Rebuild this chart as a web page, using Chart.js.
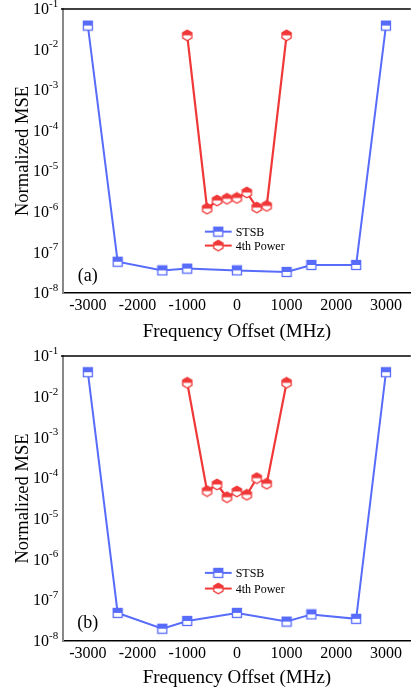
<!DOCTYPE html>
<html>
<head>
<meta charset="utf-8">
<script src="https://cdn.jsdelivr.net/npm/chart.js@4"></script>
<style>
  html, body { margin: 0; padding: 0; background: #fff; }
  .panel { width: 413px; overflow: hidden; position: relative; }
  #wrapA { height: 345px; }
  #wrapB { height: 346px; }
</style>
</head>
<body>
<div class="panel" id="wrapA"><canvas id="chartA" width="418" height="345"></canvas></div>
<div class="panel" id="wrapB"><canvas id="chartB" width="418" height="346"></canvas></div>
<script>
// données
var freqSTSB = [-3000, -2400, -1500, -1000, 0, 1000, 1500, 2400, 3000];
var freq4th = [-1000, -600, -400, -200, 0, 200, 400, 600, 1000];
var stsbA = [0.039, 5.9e-8, 3.6e-8, 4.0e-8, 3.6e-8, 3.3e-8, 4.9e-8, 4.9e-8, 0.039];
var powA = [0.0224, 1.2e-6, 1.9e-6, 2.1e-6, 2.2e-6, 3.0e-6, 1.28e-6, 1.4e-6, 0.0224];
var stsbB = [0.04, 4.9e-8, 2.0e-8, 3.1e-8, 4.9e-8, 3.0e-8, 4.5e-8, 3.5e-8, 0.04];
var powB = [0.022, 4.8e-5, 7.0e-5, 3.4e-5, 4.7e-5, 3.9e-5, 1.0e-4, 7.3e-5, 0.022];
var xTicks = [-3000, -2000, -1000, 0, 1000, 2000, 3000];
var yExponents = [-1, -2, -3, -4, -5, -6, -7, -8];
var seriesNames = ['STSB', '4th Power'];

var BLUE = 'rgb(88,108,250)';
var RED = 'rgb(240,56,56)';
var SERIF = '"Liberation Serif", "Times New Roman", serif';

// marqueurs à moitié pleins
function makeSquare(color) {
    var c = document.createElement('canvas');
    c.width = 12; c.height = 12;
    var g = c.getContext('2d');
    g.fillStyle = '#fff';
    g.fillRect(1.5, 1.5, 9, 9);
    g.fillStyle = color;
    g.fillRect(1.5, 1.5, 9, 4.5);
    g.strokeStyle = color;
    g.lineWidth = 1.3;
    g.strokeRect(1.5, 1.5, 9, 9);
    return c;
}
function makeHexagon(color) {
    var c = document.createElement('canvas');
    c.width = 13; c.height = 13;
    var g = c.getContext('2d');
    var cx = 6.5, cy = 6.5, r = 5.3;
    g.beginPath();
    for (var i = 0; i < 6; i++) {
        var a = -Math.PI / 2 + i * Math.PI / 3;
        var px = cx + r * Math.cos(a), py = cy + r * Math.sin(a);
        if (i === 0) g.moveTo(px, py); else g.lineTo(px, py);
    }
    g.closePath();
    g.fillStyle = '#fff';
    g.fill();
    g.save();
    g.clip();
    g.fillStyle = color;
    g.fillRect(0, 0, 13, cy);
    g.restore();
    g.strokeStyle = color;
    g.lineWidth = 1.3;
    g.stroke();
    return c;
}
var squareImg = makeSquare(BLUE);
var hexImg = makeHexagon(RED);

function toPoints(xs, ys) {
    var pts = [];
    for (var i = 0; i < xs.length; i++) pts.push({ x: xs[i], y: ys[i] });
    return pts;
}

// plugin pour les étiquettes 10^n, le cadre du haut, la légende et (a)/(b)
var decorPlugin = {
    id: 'decor',
    afterDraw: function(chart, args, opts) {
        var ctx = chart.ctx;
        var area = chart.chartArea;
        var y = chart.scales.y;
        ctx.save();
        // ligne du haut
        ctx.strokeStyle = '#000';
        ctx.lineWidth = 1.5;
        ctx.beginPath();
        ctx.moveTo(area.left - 2, area.top);
        ctx.lineTo(area.right, area.top);
        ctx.stroke();
        // étiquettes de l'axe y
        ctx.fillStyle = '#000';
        ctx.textBaseline = 'middle';
        yExponents.forEach(function(e) {
            var py = y.getPixelForValue(Math.pow(10, e));
            ctx.font = '16px ' + SERIF;
            ctx.textAlign = 'right';
            ctx.fillText('10', area.left - 14, py + 1);
            ctx.font = '11px ' + SERIF;
            ctx.textAlign = 'left';
            ctx.fillText(String(e), area.left - 14, py - 5);
        });
        // légende
        var lx0 = area.left + (area.right - area.left) * 0.408;
        var lx1 = area.left + (area.right - area.left) * 0.485;
        var imgs = [squareImg, hexImg];
        var cols = [BLUE, RED];
        ctx.font = '12px ' + SERIF;
        ctx.textAlign = 'left';
        for (var i = 0; i < 2; i++) {
            var ly = area.top + (area.bottom - area.top) * opts.legendY[i];
            ctx.strokeStyle = cols[i];
            ctx.lineWidth = 2;
            ctx.beginPath();
            ctx.moveTo(lx0, ly);
            ctx.lineTo(lx1, ly);
            ctx.stroke();
            var im = imgs[i];
            ctx.drawImage(im, (lx0 + lx1) / 2 - im.width / 2, ly - im.height / 2);
            ctx.fillStyle = '#000';
            ctx.fillText(seriesNames[i], lx1 + 4, ly + 1);
        }
        // (a) / (b)
        ctx.font = '18px ' + SERIF;
        ctx.textAlign = 'center';
        ctx.fillText(opts.tag, chart.scales.x.getPixelForValue(-3000), area.top + (area.bottom - area.top) * opts.tagY);
        ctx.restore();
    }
};

function makeChart(id, stsb, pow, tag, legendY, tagY, padTop, xHeight) {
    var ctx = document.getElementById(id).getContext('2d');
    return new Chart(ctx, {
        type: 'line',
        data: {
            datasets: [{
                label: seriesNames[0],
                data: toPoints(freqSTSB, stsb),
                borderColor: BLUE,
                borderWidth: 2,
                pointStyle: squareImg,
                pointRadius: 5
            }, {
                label: seriesNames[1],
                data: toPoints(freq4th, pow),
                borderColor: RED,
                borderWidth: 2.2,
                pointStyle: hexImg,
                pointRadius: 5
            }]
        },
        options: {
            responsive: false,
            animation: false,
            layout: { padding: { top: padTop, left: 0, right: 0, bottom: 0 } },
            plugins: {
                legend: { display: false },
                tooltip: { enabled: false },
                decor: { tag: tag, legendY: legendY, tagY: tagY }
            },
            scales: {
                x: {
                    type: 'linear',
                    min: -3500,
                    max: 3500,
                    afterBuildTicks: function(scale) {
                        scale.ticks = xTicks.map(function(v) { return { value: v }; });
                    },
                    afterFit: function(scale) { scale.height = xHeight; },
                    ticks: {
                        color: '#000',
                        font: { family: SERIF, size: 16 },
                        padding: 3,
                        maxRotation: 0,
                        callback: function(v) { return String(v); }
                    },
                    grid: { display: false, drawTicks: false },
                    border: { color: '#000', width: 1.5 },
                    title: {
                        display: true,
                        text: 'Frequency Offset (MHz)',
                        color: '#000',
                        font: { family: SERIF, size: 19 },
                        padding: { top: 0, bottom: 2 }
                    }
                },
                y: {
                    type: 'logarithmic',
                    min: 1e-8,
                    max: 1e-1,
                    afterFit: function(scale) { scale.width = 63; },
                    ticks: { display: false },
                    grid: { display: false, drawTicks: false },
                    border: { color: '#888', width: 2 },
                    title: {
                        display: true,
                        text: 'Normalized MSE',
                        color: '#000',
                        font: { family: SERIF, size: 18.5 },
                        padding: { top: 12, bottom: 0 }
                    }
                }
            }
        },
        plugins: [decorPlugin]
    });
}

document.addEventListener('DOMContentLoaded', function() {
    makeChart('chartA', stsbA, powA, '(a)', [0.784, 0.833], 0.942, 9, 52);
    makeChart('chartB', stsbB, powB, '(b)', [0.761, 0.816], 0.937, 11, 50);
});
</script>
</body>
</html>
